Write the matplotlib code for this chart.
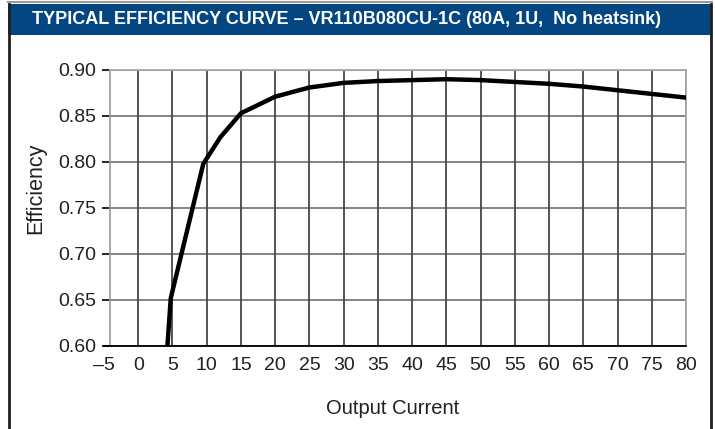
import numpy as np
import matplotlib.pyplot as plt
from matplotlib.patches import Rectangle
from matplotlib.lines import Line2D

# -----------------------------
# Data
# -----------------------------
current = [4.0, 4.75, 9.5, 12.0, 15.0, 20.0, 25.0, 30.0, 35.0, 40.0,
           45.0, 50.0, 55.0, 60.0, 65.0, 70.0, 75.0, 80.0]
efficiency = [0.572, 0.652, 0.798, 0.827, 0.853, 0.871, 0.881, 0.886, 0.888, 0.889,
              0.890, 0.889, 0.887, 0.885, 0.882, 0.878, 0.874, 0.870]

x_ticks = np.arange(-5, 81, 5)
y_ticks = [0.60, 0.65, 0.70, 0.75, 0.80, 0.85, 0.90]

title = "TYPICAL EFFICIENCY CURVE \u2013 VR110B080CU-1C (80A, 1U,  No heatsink)"

W, H = 715, 429
font = ['Liberation Sans', 'DejaVu Sans']
ink = '#231f20'

fig = plt.figure(figsize=(W / 100, H / 100), dpi=100)
fig.patch.set_facecolor('white')

# -----------------------------
# Outer frame + title bar
# -----------------------------
fig.add_artist(Rectangle((8 / W, 1 - 35 / H), 704 / W, 31 / H,
                         transform=fig.transFigure, facecolor='#034682', edgecolor='none'))
fig.add_artist(Line2D([8 / W, 712 / W], [1 - 1.5 / H, 1 - 1.5 / H],
                      transform=fig.transFigure, color='#9a9a9a', lw=1.5))
fig.add_artist(Line2D([9 / W, 9 / W], [0, 1 - 4 / H],
                      transform=fig.transFigure, color=ink, lw=2))
fig.add_artist(Line2D([711 / W, 711 / W], [0, 1 - 4 / H],
                      transform=fig.transFigure, color=ink, lw=2))
t = fig.text(32 / W, 1 - 20 / H, title, color='white', fontsize=13,
             fontweight='bold', family=font, ha='left', va='center')
# shrink the title to the width it takes in the reference
r = fig.canvas.get_renderer()
w = t.get_window_extent(r).width
t.set_fontsize(13 * min(1.0, 636 / w))

# -----------------------------
# Plot area
# -----------------------------
ax = fig.add_axes([104 / W, 1 - 346 / H, 582 / W, 276 / H])
x_start = -4.1
ax.set_xlim(-5, 80)
ax.set_ylim(0.60, 0.90)

ax.hlines(y_ticks, x_start, 80, color='#7a7a7a', lw=1.3, zorder=1)
ax.vlines(x_ticks[x_ticks > x_start], 0.60, 0.90, color='#474747', lw=1.3, zorder=1)

ax.plot(current, efficiency, color='black', lw=3.2, zorder=3)

ax.spines['left'].set_position(('data', x_start))
ax.spines['left'].set_color('#9a9a9a')
ax.spines['left'].set_linewidth(1.2)
ax.spines['top'].set_bounds(x_start, 80)
ax.spines['top'].set_color('#a8a8a8')
ax.spines['right'].set_color('#a8a8a8')
ax.spines['top'].set_linewidth(1.3)
ax.spines['right'].set_linewidth(1.3)
ax.spines['bottom'].set_color('black')
ax.spines['bottom'].set_linewidth(1.3)

ax.set_xticks(x_ticks)
ax.set_xticklabels([str(v).replace('-', '\u2013') for v in x_ticks])
ax.set_yticks(y_ticks)
ax.set_yticklabels([f"{v:.2f}" for v in y_ticks])
ax.tick_params(axis='x', length=0, pad=8)
ax.tick_params(axis='y', length=6, width=1.2, pad=4, color='black')
for lab in ax.get_xticklabels() + ax.get_yticklabels():
    lab.set_family(font)
    lab.set_fontsize(14)
    lab.set_color(ink)

fig.text(36 / W, 1 - 188 / H, "Efficiency", rotation=90, fontsize=15.5,
         family=font, ha='center', va='center', color=ink)
fig.text(393 / W, 1 - 408 / H, "Output Current", fontsize=14.5,
         family=font, ha='center', va='center', color=ink)

fig.savefig('out.png', dpi=100)
